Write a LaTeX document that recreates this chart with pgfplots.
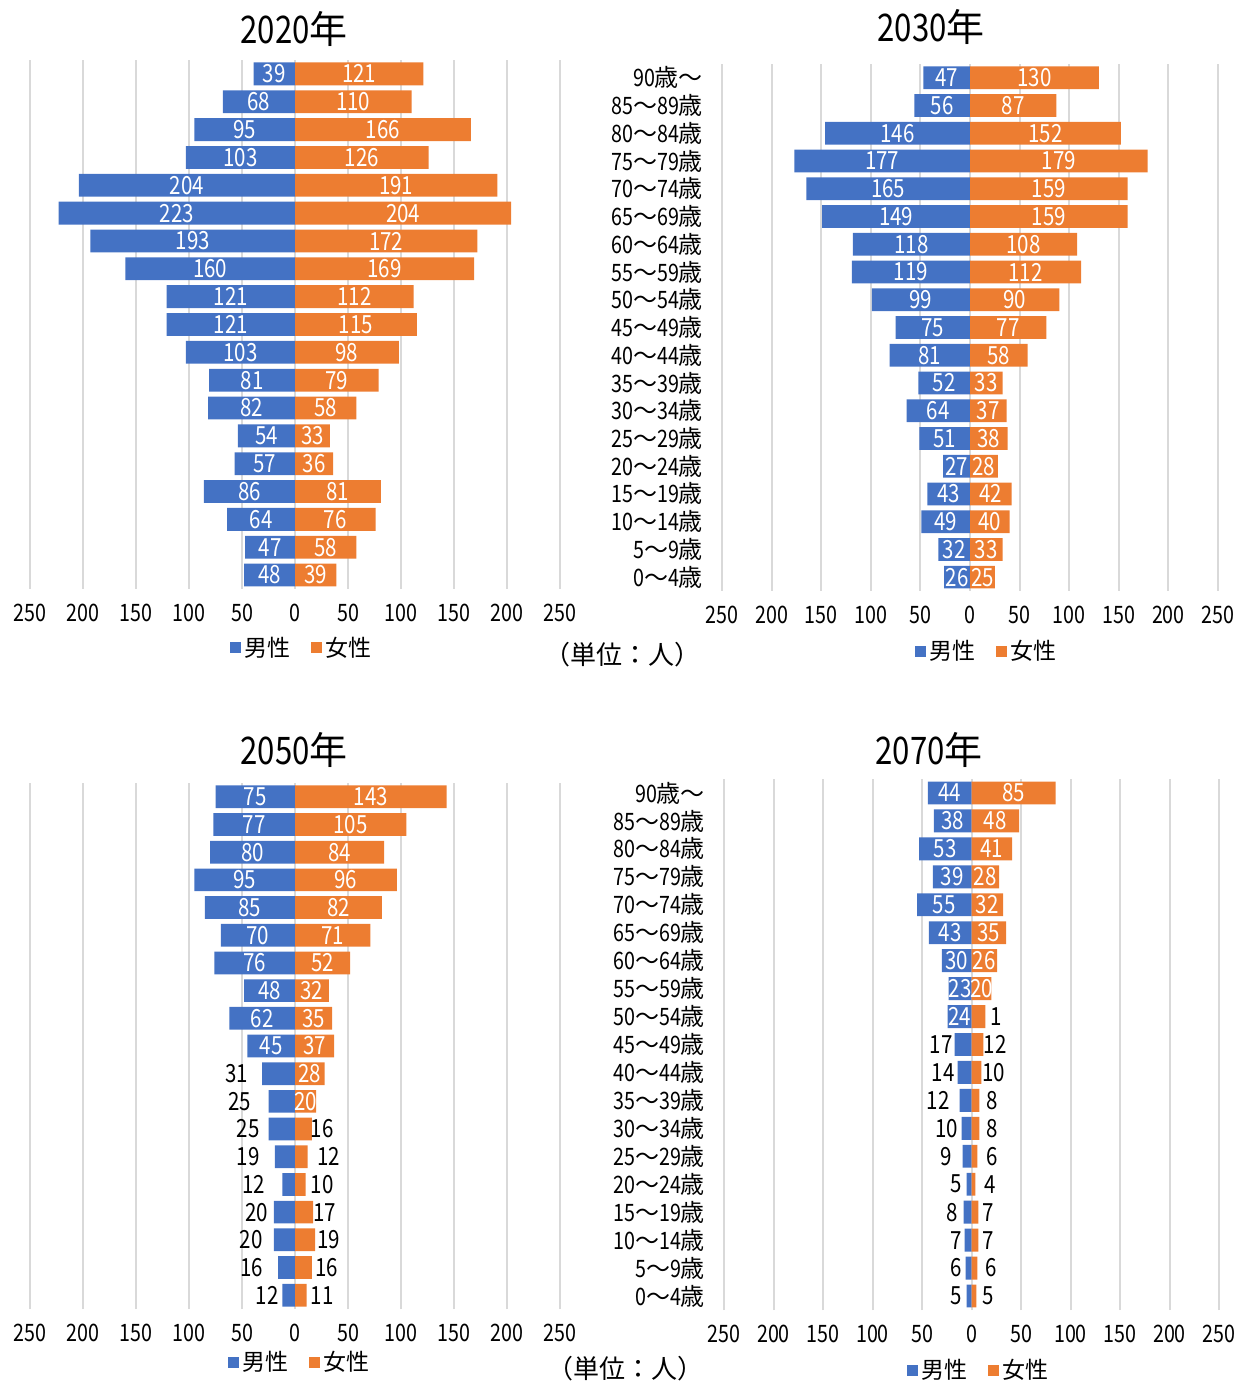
\documentclass[border=0pt]{standalone}
\usepackage{pgfplots}
\pgfplotsset{compat=1.18}
\usepackage{pgfplotstable}
\usepackage{fontspec}
\setmainfont[FakeStretch=0.82]{Noto Sans CJK JP}
\newfontfamily\cjk{Noto Sans CJK JP}
\definecolor{cblue}{HTML}{4472C4}
\definecolor{corange}{HTML}{ED7D31}
\definecolor{gridgray}{HTML}{D9D9D9}
\newcommand\ag[2]{#1{\cjk ～}#2{\cjk 歳}}

% 2020
\pgfplotstableread{
y m f
18 39 121
17 68 110
16 95 166
15 103 126
14 204 191
13 223 204
12 193 172
11 160 169
10 121 112
9 121 115
8 103 98
7 81 79
6 82 58
5 54 33
4 57 36
3 86 81
2 64 76
1 47 58
0 48 39
}\tA
% 2030
\pgfplotstableread{
y m f
18 47 130
17 56 87
16 146 152
15 177 179
14 165 159
13 149 159
12 118 108
11 119 112
10 99 90
9 75 77
8 81 58
7 52 33
6 64 37
5 51 38
4 27 28
3 43 42
2 49 40
1 32 33
0 26 25
}\tB
% 2050
\pgfplotstableread{
y m f
18 75 143
17 77 105
16 80 84
15 95 96
14 85 82
13 70 71
12 76 52
11 48 32
10 62 35
9 45 37
8 31 28
7 25 20
6 25 16
5 19 12
4 12 10
3 20 17
2 20 19
1 16 16
0 12 11
}\tC
\pgfplotstableread{
y x t
18 -37.5 75
17 -38.5 77
16 -40 80
15 -47.5 95
14 -42.5 85
13 -35 70
12 -38 76
11 -24 48
10 -31 62
9 -22.5 45
18 71.5 143
17 52.5 105
16 42 84
15 48 96
14 41 82
13 35.5 71
12 26 52
11 16 32
10 17.5 35
9 18.5 37
8 14 28
7 10 20
}\tCw
\pgfplotstableread{
y x t
8 -55 31
7 -52 25
6 -44 25
5 -44 19
4 -38.7 12
3 -36.3 20
2 -41.5 20
1 -41 16
0 -26.4 12
6 25.5 16
5 31.6 12
4 25.5 10
3 28 17
2 31.6 19
1 29.7 16
0 25.5 11
}\tCk
% 2070
\pgfplotstableread{
y m f
18 44 85
17 38 48
16 53 41
15 39 28
14 55 32
13 43 35
12 30 26
11 23 20
10 24 14
9 17 12
8 14 10
7 12 8
6 10 8
5 9 6
4 5 4
3 8 7
2 7 7
1 6 6
0 5 5
}\tD
\pgfplotstableread{
y x t
18 -22 44
17 -19 38
16 -26.5 53
15 -19.5 39
14 -27.5 55
13 -21.5 43
12 -15 30
11 -11.5 23
10 -12 24
18 42.5 85
17 24 48
16 20.5 41
15 14 28
14 16 32
13 17.5 35
12 13 26
11 10 20
}\tDw
\pgfplotstableread{
y x t
9 -30.5 17
8 -28.5 14
7 -33.5 12
6 -25 10
5 -26 9
4 -15.5 5
3 -19.5 8
2 -15.5 7
1 -15.5 6
0 -15.5 5
10 25 1
9 24 12
8 22.5 10
7 20.5 8
6 20.5 8
5 20.5 6
4 18.5 4
3 17 7
2 17 7
1 20 6
0 16.5 5
}\tDk

\pgfplotsset{
  pyr/.style={
    scale only axis,
    xmin=-250, xmax=250, ymin=-0.5, ymax=18.5,
    xtick={-250,-200,...,250},
    xticklabels={250,200,150,100,50,0,50,100,150,200,250},
    ytick={0,...,18},
    xmajorgrids, ymajorgrids=false,
    major grid style={draw=gridgray, line width=1pt},
    axis line style={draw=none},
    major tick length=0pt,
    tick label style={font=\fontsize{12}{14}\selectfont},
    xticklabel style={yshift=-4pt},
    yticklabel style={xshift=-6pt},
    bar width=0.82,
    clip=false,
    legend style={draw=none, fill=none, legend columns=2, anchor=center,
      font=\fontsize{11.5}{13}\selectfont,
      /tikz/every even column/.append style={column sep=8pt}},
  },
  noy/.style={ytick=\empty},
  agey/.style={yticklabels={\ag{0}{4},\ag{5}{9},\ag{10}{14},\ag{15}{19},\ag{20}{24},\ag{25}{29},\ag{30}{34},\ag{35}{39},\ag{40}{44},\ag{45}{49},\ag{50}{54},\ag{55}{59},\ag{60}{64},\ag{65}{69},\ag{70}{74},\ag{75}{79},\ag{80}{84},\ag{85}{89},90{\cjk 歳～}}},
  barB/.style={xbar, bar shift=0pt, fill=cblue, draw=none,
    legend image code/.code={\fill[cblue] (0pt,-2.75pt) rectangle (5.5pt,2.75pt);}},
  barO/.style={xbar, bar shift=0pt, fill=corange, draw=none,
    legend image code/.code={\fill[corange] (0pt,-2.75pt) rectangle (5.5pt,2.75pt);}},
  lab/.style={only marks, mark=*, mark size=0pt, mark options={draw=none, fill=none},
    point meta=explicit symbolic, nodes near coords,
    every node near coord/.append style={anchor=center, inner sep=0pt,
      font=\fontsize{12.5}{14}\selectfont, text=#1},
    forget plot},
}

\begin{document}
\begin{tikzpicture}
\path[use as bounding box] (0pt,0pt) rectangle (619.5pt,691pt);

% ---------- 2020 ----------
\begin{axis}[pyr, noy, at={(15pt,396.5pt)}, anchor=south west,
  width=265pt, height=264.5pt,
  legend style={at={(0.515,-0.1115)}}]
\addplot[barB] table[x expr=-\thisrow{m}, y=y] {\tA};
\addlegendentry{{\cjk 男性}}
\addplot[barO] table[x=f, y=y] {\tA};
\addlegendentry{{\cjk 女性}}
\addplot[lab=white] table[x expr=-\thisrow{m}/2, y=y, meta=m] {\tA};
\addplot[lab=white] table[x expr=\thisrow{f}/2, y=y, meta=f] {\tA};
\end{axis}

% ---------- 2030 ----------
\begin{axis}[pyr, agey, at={(361pt,395.5pt)}, anchor=south west,
  width=248pt, height=263.5pt,
  legend style={at={(0.536,-0.114)}}]
\addplot[barB] table[x expr=-\thisrow{m}, y=y] {\tB};
\addlegendentry{{\cjk 男性}}
\addplot[barO] table[x=f, y=y] {\tB};
\addlegendentry{{\cjk 女性}}
\addplot[lab=white] table[x expr=-\thisrow{m}/2, y=y, meta=m] {\tB};
\addplot[lab=white] table[x expr=\thisrow{f}/2, y=y, meta=f] {\tB};
\end{axis}

% ---------- 2050 ----------
\begin{axis}[pyr, noy, at={(15pt,36.5pt)}, anchor=south west,
  width=265pt, height=263pt,
  legend style={at={(0.511,-0.1008)}}]
\addplot[barB] table[x expr=-\thisrow{m}, y=y] {\tC};
\addlegendentry{{\cjk 男性}}
\addplot[barO] table[x=f, y=y] {\tC};
\addlegendentry{{\cjk 女性}}
\addplot[lab=white] table[x=x, y=y, meta=t] {\tCw};
\addplot[lab=black] table[x=x, y=y, meta=t] {\tCk};
\end{axis}

% ---------- 2070 ----------
\begin{axis}[pyr, agey, at={(362pt,36pt)}, anchor=south west,
  width=247.5pt, height=265.5pt,
  legend style={at={(0.517,-0.113)}}]
\addplot[barB] table[x expr=-\thisrow{m}, y=y] {\tD};
\addlegendentry{{\cjk 男性}}
\addplot[barO] table[x=f, y=y] {\tD};
\addlegendentry{{\cjk 女性}}
\addplot[lab=white] table[x=x, y=y, meta=t] {\tDw};
\addplot[lab=black] table[x=x, y=y, meta=t] {\tDk};
\end{axis}

% titles and unit notes
\node[font=\fontsize{19}{22}\selectfont] at (147pt,676.5pt) {2020{\cjk 年}};
\node[font=\fontsize{19}{22}\selectfont] at (465.5pt,677.5pt) {2030{\cjk 年}};
\node[font=\fontsize{19}{22}\selectfont] at (147pt,316pt) {2050{\cjk 年}};
\node[font=\fontsize{19}{22}\selectfont] at (464.5pt,316pt) {2070{\cjk 年}};
\node[font=\fontsize{13}{15}\selectfont] at (311pt,363.5pt) {{\cjk （単位：人）}};
\node[font=\fontsize{13}{15}\selectfont] at (312.5pt,6.5pt) {{\cjk （単位：人）}};
\end{tikzpicture}
\end{document}
